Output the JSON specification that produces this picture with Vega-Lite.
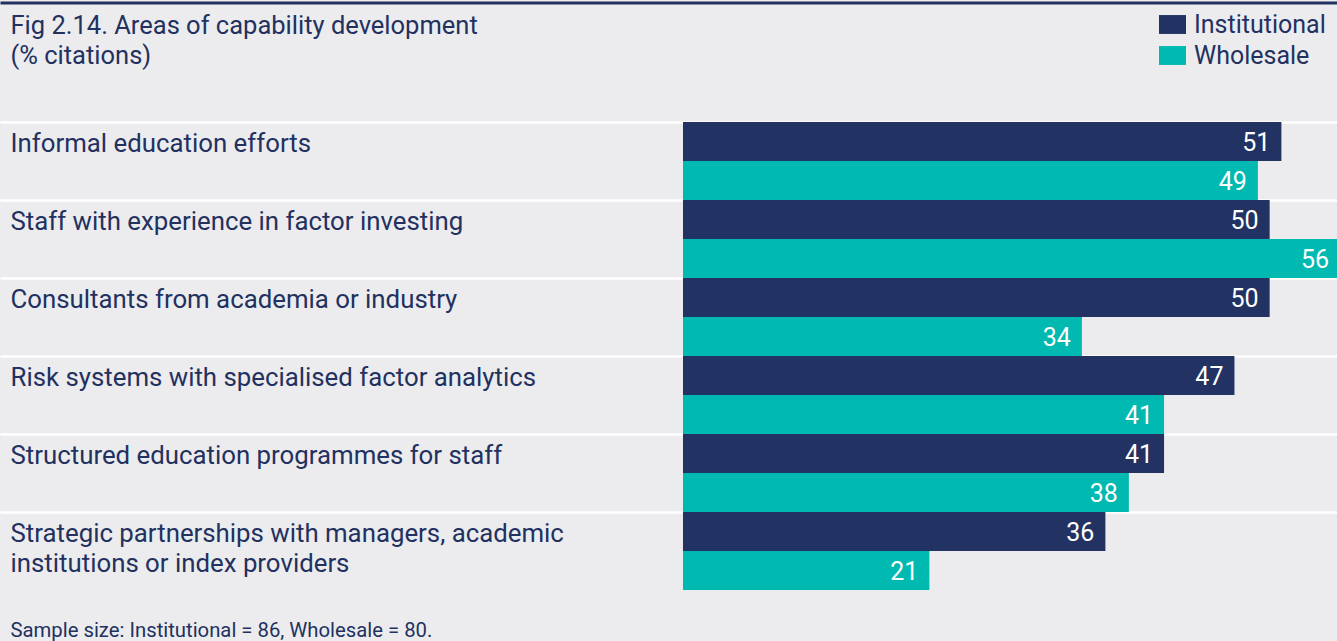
{
  "$schema": "https://vega.github.io/schema/vega-lite/v6.json",
  "width": 1337,
  "height": 468,
  "autosize": {"type": "none"},
  "padding": {"left": 0, "top": 122, "right": 0, "bottom": 51},
  "background": "#ECECEE",
  "config": {
    "view": {"stroke": null},
    "font": "Roboto",
    "text": {"font": "Roboto"}
  },
  "data": {
    "values": [
      {"category": "Informal education efforts", "series": "Institutional", "value": 51},
      {"category": "Informal education efforts", "series": "Wholesale", "value": 49},
      {"category": "Staff with experience in factor investing", "series": "Institutional", "value": 50},
      {"category": "Staff with experience in factor investing", "series": "Wholesale", "value": 56},
      {"category": "Consultants from academia or industry", "series": "Institutional", "value": 50},
      {"category": "Consultants from academia or industry", "series": "Wholesale", "value": 34},
      {"category": "Risk systems with specialised factor analytics", "series": "Institutional", "value": 47},
      {"category": "Risk systems with specialised factor analytics", "series": "Wholesale", "value": 41},
      {"category": "Structured education programmes for staff", "series": "Institutional", "value": 41},
      {"category": "Structured education programmes for staff", "series": "Wholesale", "value": 38},
      {"category": "Strategic partnerships with managers, academic|institutions or index providers", "series": "Institutional", "value": 36},
      {"category": "Strategic partnerships with managers, academic|institutions or index providers", "series": "Wholesale", "value": 21}
    ]
  },
  "encoding": {
    "y": {
      "field": "category",
      "type": "nominal",
      "sort": null,
      "scale": {"paddingInner": 0, "paddingOuter": 0},
      "axis": {
        "orient": "left",
        "title": null,
        "domain": false,
        "ticks": false,
        "grid": true,
        "gridColor": "#FFFFFF",
        "gridWidth": 2.5,
        "gridOpacity": 1,
        "bandPosition": 0,
        "labelAlign": "left",
        "labelBaseline": "top",
        "labelPadding": -10,
        "labelOffset": -29,
        "labelLimit": 0,
        "labelFont": "Roboto",
        "labelFontSize": 25.8,
        "labelColor": "#22315F",
        "labelLineHeight": 30,
        "labelExpr": "split(datum.label, '|')"
      }
    },
    "yOffset": {
      "field": "series",
      "type": "nominal",
      "scale": {"paddingInner": 0, "paddingOuter": 0}
    }
  },
  "resolve": {"axis": {"x": "independent"}},
  "layer": [
    {
      "mark": {"type": "bar", "clip": true},
      "encoding": {
        "x": {
          "field": "value",
          "type": "quantitative",
          "scale": {"domain": [-58.21, 55.74], "nice": false, "zero": false},
          "axis": {
            "orient": "bottom",
            "labels": false,
            "ticks": false,
            "domain": false,
            "grid": false,
            "title": "Sample size: Institutional = 86, Wholesale = 80.",
            "titleAnchor": "start",
            "titleAlign": "left",
            "titleBaseline": "middle",
            "titleX": 10,
            "titleY": 40,
            "titleFont": "Roboto",
            "titleFontSize": 20.3,
            "titleFontWeight": "normal",
            "titleColor": "#22315F"
          }
        },
        "x2": {"datum": 0},
        "color": {
          "field": "series",
          "type": "nominal",
          "scale": {"domain": ["Institutional", "Wholesale"], "range": ["#213263", "#00B9B1"]},
          "legend": {
            "title": null,
            "orient": "none",
            "legendX": 1159,
            "legendY": -111,
            "padding": 0,
            "symbolType": "M-1,-0.7H1V0.7H-1Z",
            "symbolSize": 729,
            "symbolOpacity": 1,
            "symbolStrokeWidth": 0,
            "labelFont": "Roboto",
            "labelFontSize": 25,
            "labelColor": "#22315F",
            "labelOffset": 8,
            "rowPadding": 4,
            "labelLimit": 0
          }
        }
      }
    },
    {
      "mark": {
        "type": "text",
        "align": "right",
        "baseline": "middle",
        "dx": -11,
        "dy": 1,
        "color": "#FFFFFF",
        "font": "Roboto",
        "fontSize": 25,
        "clip": true
      },
      "encoding": {
        "x": {
          "field": "value",
          "type": "quantitative",
          "axis": {
            "orient": "top",
            "offset": 119.5,
            "labels": false,
            "ticks": false,
            "grid": false,
            "domain": true,
            "domainColor": "#22315F",
            "domainWidth": 3,
            "title": ["Fig 2.14. Areas of capability development", "(% citations)"],
            "titleAnchor": "start",
            "titleAlign": "left",
            "titleBaseline": "top",
            "titleX": 10,
            "titleY": 11,
            "titleFont": "Roboto",
            "titleFontSize": 25.5,
            "titleFontWeight": "normal",
            "titleColor": "#22315F",
            "titleLineHeight": 30
          }
        },
        "text": {"field": "value", "type": "quantitative"}
      }
    }
  ]
}
